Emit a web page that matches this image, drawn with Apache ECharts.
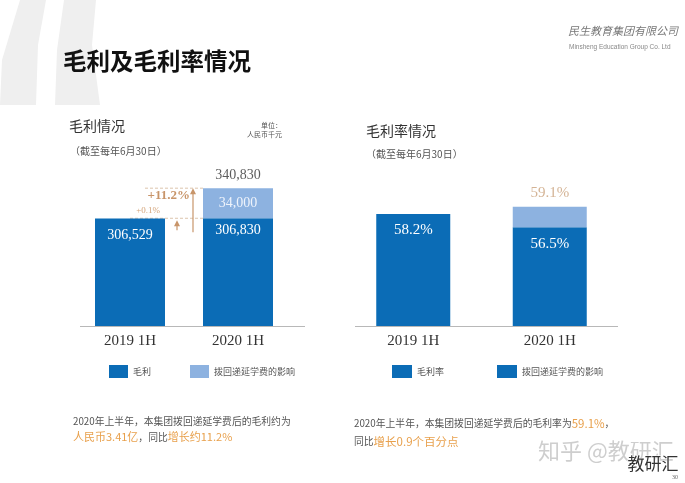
<!DOCTYPE html>
<html>
<head>
<meta charset="utf-8">
<script src="https://cdn.jsdelivr.net/npm/echarts@6/dist/echarts.min.js"></script>
<style>
html,body{margin:0;padding:0;background:#fff;}
#main{width:685px;height:483px;}
</style>
</head>
<body>
<div id="main"></div>
<script>
// ---- data ----
const categories = ['2019 1H', '2020 1H'];
const grossProfit = [306529, 306830];
const deferredTuitionEffect = ['-', 34000];
const grossProfitTotal = ['-', 340830];
const grossMargin = [58.2, 56.5];
const deferredMarginEffect = ['-', 2.6];
const grossMarginTotal = ['-', 59.1];
const growthLabels = ['+11.2%', '+0.1%'];

const DARK = '#0b6cb6';
const LIGHT = '#8db2e0';
const BROWN = '#c8956a';
const ORANGE = '#e8a04c';
const SERIF = 'Liberation Serif';
const CJK = 'Noto Sans CJK SC';

const fmt = v => Number(v).toLocaleString('en-US');

const chart = echarts.init(document.getElementById('main'));

const option = {
  animation: false,
  backgroundColor: '#ffffff',
  grid: [
    { left: 76, top: 150, width: 216, height: 176 },
    { left: 345, top: 150, width: 273, height: 176 }
  ],
  xAxis: [0, 1].map(i => ({
    type: 'category', gridIndex: i, data: categories,
    axisLine: { show: false }, axisTick: { show: false },
    axisLabel: { color: '#333', fontFamily: SERIF, fontSize: 15, margin: 8 }
  })),
  yAxis: [
    { type: 'value', gridIndex: 0, min: 185000, max: 384000, show: false, splitLine: { show: false } },
    { type: 'value', gridIndex: 1, min: 44, max: 66.3, show: false, splitLine: { show: false } }
  ],
  legend: [
    {
      left: 104, top: 360, itemWidth: 19, itemHeight: 13, itemGap: 39, icon: 'rect',
      textStyle: { fontFamily: CJK, fontSize: 9, color: '#555' },
      data: [{ name: '毛利' }, { name: '拨回递延学费的影响' }]
    },
    {
      left: 387, top: 360, itemWidth: 20, itemHeight: 13, itemGap: 53, icon: 'rect',
      textStyle: { fontFamily: CJK, fontSize: 9, color: '#555' },
      data: [{ name: '毛利率' }, { name: '拨回递延学费的影响', itemStyle: { color: DARK } }]
    }
  ],
  series: [
    {
      name: '毛利', type: 'bar', xAxisIndex: 0, yAxisIndex: 0, stack: 'gp', barWidth: 70,
      itemStyle: { color: DARK },
      data: grossProfit.map((v, i) => ({ value: v, label: { offset: [0, i === 0 ? 5 : 0] } })),
      label: { show: true, position: 'insideTop', distance: 5, color: '#fff', fontFamily: SERIF, fontSize: 14, formatter: p => fmt(p.value) }
    },
    {
      name: '拨回递延学费的影响', type: 'bar', xAxisIndex: 0, yAxisIndex: 0, stack: 'gp', barWidth: 70,
      itemStyle: { color: LIGHT }, data: deferredTuitionEffect,
      label: { show: true, position: 'inside', color: '#eef3fb', fontFamily: SERIF, fontSize: 14, formatter: p => fmt(p.value) }
    },
    {
      name: 'total', type: 'scatter', xAxisIndex: 0, yAxisIndex: 0, symbolSize: 0, data: grossProfitTotal,
      label: { show: true, position: 'top', distance: 6, color: '#333', fontFamily: SERIF, fontSize: 14, formatter: p => fmt(p.value) },
      silent: true
    },
    {
      name: '毛利率', type: 'bar', xAxisIndex: 1, yAxisIndex: 1, stack: 'gm', barWidth: 74,
      itemStyle: { color: DARK }, data: grossMargin,
      label: { show: true, position: 'insideTop', distance: 9, color: '#fff', fontFamily: SERIF, fontSize: 15, formatter: p => p.value.toFixed(1) + '%' }
    },
    {
      name: '拨回递延学费的影响', type: 'bar', xAxisIndex: 1, yAxisIndex: 1, stack: 'gm', barWidth: 74,
      itemStyle: { color: LIGHT }, data: deferredMarginEffect
    },
    {
      name: 'totalMargin', type: 'scatter', xAxisIndex: 1, yAxisIndex: 1, symbolSize: 0, data: grossMarginTotal,
      label: { show: true, position: 'top', distance: 6, color: '#c9a07a', fontFamily: SERIF, fontSize: 15, formatter: p => p.value.toFixed(1) + '%' },
      silent: true
    }
  ]
};
chart.setOption(option);

// ---- annotations computed from the scales ----
const yTot = chart.convertToPixel({ yAxisIndex: 0 }, grossProfitTotal[1]);
const yDark = chart.convertToPixel({ yAxisIndex: 0 }, grossProfit[1]);
const yBase = chart.convertToPixel({ yAxisIndex: 0 }, 185000);
const x2020 = chart.convertToPixel({ xAxisIndex: 0 }, categories[1]);
const barLeft = x2020 - 35;
const yBaseR = chart.convertToPixel({ yAxisIndex: 1 }, 44);

function arrow(x, y1, y2) {
  return [
    { type: 'line', shape: { x1: x, y1: y1, x2: x, y2: y2 + 4 }, style: { stroke: BROWN, lineWidth: 1.2 } },
    { type: 'polygon', shape: { points: [[x, y2], [x - 3, y2 + 6], [x + 3, y2 + 6]] }, style: { fill: BROWN } }
  ];
}

const graphics = [
  // decorative big quote
  { type: 'polygon', shape: { points: [[20, 0], [46, 0], [38, 45], [36, 105], [0, 105], [2, 60]] }, style: { fill: '#efefef' }, z: -1 },
  { type: 'polygon', shape: { points: [[64, 0], [96, 0], [92, 45], [100, 105], [55, 105], [57, 50]] }, style: { fill: '#efefef' }, z: -1 },
  // main title
  { type: 'text', left: 63, top: 49, style: { text: '毛利及毛利率情况', font: 'bold 23.5px "Noto Sans CJK SC"', fill: '#111' } },
  // logo
  { type: 'text', left: 568, top: 27, style: { text: '民生教育集团有限公司', font: 'italic 11px "Liberation Serif", "Noto Sans CJK SC"', fill: '#777' } },
  { type: 'text', left: 569, top: 44, style: { text: 'Minsheng Education Group Co. Ltd', font: '6.5px "Liberation Sans"', fill: '#888' } },
  // chart titles
  { type: 'text', left: 69, top: 119, style: { text: '毛利情况', font: '14px "Noto Sans CJK SC"', fill: '#333' } },
  { type: 'text', left: 70, top: 146, style: { text: '（截至每年6月30日）', font: '10px "Noto Sans CJK SC"', fill: '#555' } },
  { type: 'text', right: 685 - 282, top: 122, style: { text: '单位：', font: '7px "Noto Sans CJK SC"', fill: '#555', align: 'right' } },
  { type: 'text', right: 685 - 282, top: 131, style: { text: '人民币千元', font: '7px "Noto Sans CJK SC"', fill: '#555', align: 'right' } },
  { type: 'text', left: 366, top: 124, style: { text: '毛利率情况', font: '14px "Noto Sans CJK SC"', fill: '#333' } },
  { type: 'text', left: 366, top: 149, style: { text: '（截至每年6月30日）', font: '10px "Noto Sans CJK SC"', fill: '#555' } },
  // axis baselines
  { type: 'line', shape: { x1: 80, y1: yBase + 0.5, x2: 305, y2: yBase + 0.5 }, style: { stroke: '#b8b8b8', lineWidth: 1 } },
  { type: 'line', shape: { x1: 355, y1: yBaseR + 0.5, x2: 618, y2: yBaseR + 0.5 }, style: { stroke: '#b8b8b8', lineWidth: 1 } },
  // growth annotations
  { type: 'line', shape: { x1: 145, y1: yTot, x2: barLeft, y2: yTot }, style: { stroke: '#dcc4ac', lineWidth: 1, lineDash: [3, 2] } },
  { type: 'line', shape: { x1: 130, y1: yDark, x2: barLeft, y2: yDark }, style: { stroke: '#dcc4ac', lineWidth: 1, lineDash: [3, 2] } },
  ...arrow(193, yDark + 14, yTot),
  ...arrow(177, yDark + 12, yDark + 2),
  { type: 'text', right: 685 - 190, top: yTot + 1, style: { text: growthLabels[0], font: 'bold 13px "Liberation Serif"', fill: BROWN, align: 'right' } },
  { type: 'text', right: 685 - 160, top: yDark - 12, style: { text: growthLabels[1], font: '9px "Liberation Serif"', fill: '#d4a47a', align: 'right' } },
  // bottom texts
  { type: 'text', left: 73, top: 416, style: {
      text: '{g|2020年上半年，本集团拨回递延学费后的毛利约为}\n{o|人民币3.41亿}{g|，同比}{o|增长约11.2%}',
      rich: {
        g: { fontFamily: CJK, fontSize: 9.8, fill: '#555', lineHeight: 16 },
        o: { fontFamily: CJK, fontSize: 11, fill: ORANGE, lineHeight: 16 }
      } } },
  { type: 'text', left: 354, top: 418, style: {
      text: '{g|2020年上半年，本集团拨回递延学费后的毛利率为}{o|59.1%}{g|，}\n{g|同比}{o|增长0.9个百分点}',
      rich: {
        g: { fontFamily: CJK, fontSize: 9.8, fill: '#555', lineHeight: 18 },
        o: { fontFamily: CJK, fontSize: 11.5, fill: ORANGE, lineHeight: 18 }
      } } },
  // watermark
  { type: 'text', left: 538, top: 440, style: { text: '知乎 @教研汇', font: '22px "Noto Sans CJK SC"', fill: 'rgba(185,185,185,0.7)' } },
  { type: 'text', left: 627, top: 455, style: { text: '教研汇', font: '17px "Noto Sans CJK SC"', fill: '#333', stroke: '#fff', lineWidth: 1 } },
  { type: 'text', left: 672, top: 474, style: { text: '30', font: '6px "Liberation Serif"', fill: '#666' } }
];

chart.setOption({ graphic: graphics });
</script>
</body>
</html>
